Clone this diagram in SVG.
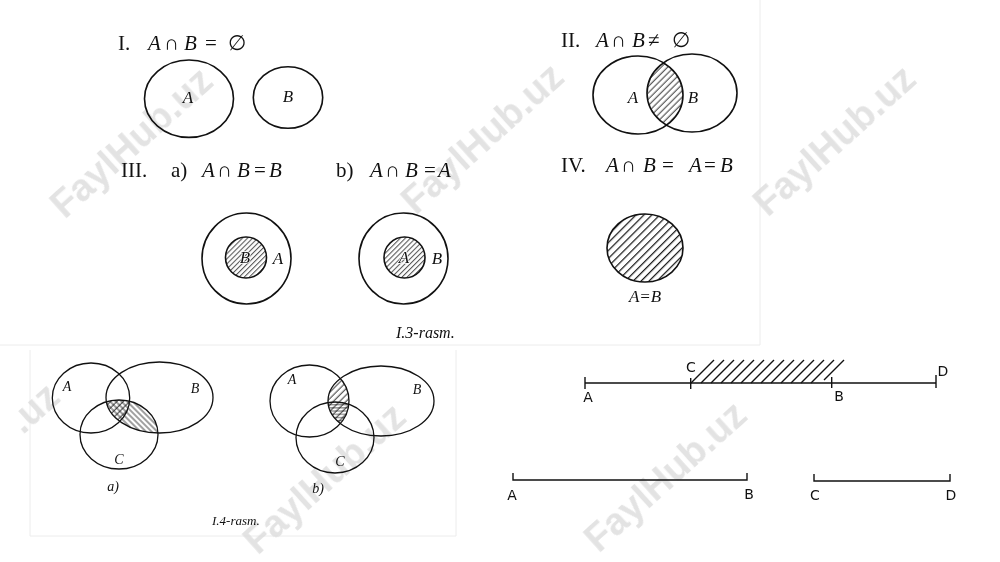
<svg xmlns="http://www.w3.org/2000/svg" width="1000" height="562" viewBox="0 0 1000 562">
<style>
.c{fill:none;stroke:#111;stroke-width:1.6}
.cc{fill:none;stroke:#111;stroke-width:1.3}
.t{font-family:"Liberation Serif",serif;font-size:21px;fill:#111}
.i{font-style:italic}
.l{font-family:"Liberation Serif",serif;font-style:italic;font-size:17px;fill:#111}
.s{font-family:"Liberation Serif",serif;font-style:italic;font-size:14px;fill:#111}
.h{font-family:"DejaVu Sans",sans-serif;font-size:14px;fill:#111}
.seg{stroke:#111;stroke-width:1.4;fill:none}
.wm{font-family:"Liberation Sans",sans-serif;font-weight:bold;font-size:38px;fill:#dcdcdc}
.frame{stroke:#ececec;stroke-width:1;fill:none}
</style>
<defs>
<pattern id="hF" width="4.5" height="10" patternUnits="userSpaceOnUse" patternTransform="rotate(45)"><line x1="2" y1="0" x2="2" y2="10" stroke="#111" stroke-width="0.9"/></pattern>
<pattern id="hIV" width="5.6" height="10" patternUnits="userSpaceOnUse" patternTransform="rotate(45)"><line x1="2.5" y1="0" x2="2.5" y2="10" stroke="#111" stroke-width="1.2"/></pattern>
<pattern id="hS" width="3.6" height="10" patternUnits="userSpaceOnUse" patternTransform="rotate(45)"><line x1="1.5" y1="0" x2="1.5" y2="10" stroke="#111" stroke-width="0.8"/></pattern>
<pattern id="hB" width="4" height="10" patternUnits="userSpaceOnUse" patternTransform="rotate(-45)"><line x1="2" y1="0" x2="2" y2="10" stroke="#111" stroke-width="0.8"/></pattern>
<pattern id="hH" width="10" height="3.2" patternUnits="userSpaceOnUse"><line x1="0" y1="1.5" x2="10" y2="1.5" stroke="#111" stroke-width="0.7"/></pattern>
<clipPath id="cIIB"><ellipse cx="692" cy="93" rx="45" ry="39"/></clipPath>
<clipPath id="caB"><ellipse cx="159.5" cy="397.5" rx="53.5" ry="35.5"/></clipPath>
<clipPath id="caA"><ellipse cx="91" cy="398" rx="38.7" ry="35"/></clipPath>
<clipPath id="cbB"><ellipse cx="381" cy="401" rx="53" ry="35"/></clipPath>
<clipPath id="cbC"><ellipse cx="335" cy="437.5" rx="39" ry="35.5"/></clipPath>
</defs>
<rect width="1000" height="562" fill="#fff"/>
<g id="frames">
<path class="frame" d="M0,345 H760 V0"/>
<path class="frame" d="M30,350 V536 H456 V350"/>
</g>

<g id="watermarks" opacity="0.8">
<text class="wm" text-anchor="middle" transform="translate(140,152) rotate(-42)">FaylHub.uz</text>
<text class="wm" text-anchor="middle" transform="translate(491,148) rotate(-42)">FaylHub.uz</text>
<text class="wm" text-anchor="middle" transform="translate(843,150) rotate(-42)">FaylHub.uz</text>
<text class="wm" text-anchor="middle" transform="translate(333,488) rotate(-42)">FaylHub.uz</text>
<text class="wm" text-anchor="middle" transform="translate(674,486) rotate(-42)">FaylHub.uz</text>
<text class="wm" text-anchor="end" transform="translate(62,400) rotate(-42)">.uz</text>
</g>

<g id="set-I">
<text class="t" x="118" y="50">I.<tspan class="i" x="148">A</tspan><tspan x="164">∩</tspan><tspan class="i" x="184">B</tspan><tspan x="205">=</tspan><tspan x="228">∅</tspan></text>
<ellipse class="c" cx="189" cy="98.7" rx="44.5" ry="38.7"/>
<ellipse class="c" cx="288" cy="97.5" rx="34.7" ry="30.8"/>
<text class="l" x="188" y="103" text-anchor="middle">A</text>
<text class="l" x="288" y="102" text-anchor="middle">B</text>
</g>

<g id="set-II">
<text class="t" x="561" y="47">II.<tspan class="i" x="596">A</tspan><tspan x="611">∩</tspan><tspan class="i" x="632">B</tspan><tspan x="648">≠</tspan><tspan x="672">∅</tspan></text>
<ellipse cx="638" cy="95" rx="45" ry="39" fill="url(#hF)" clip-path="url(#cIIB)"/>
<ellipse class="c" cx="638" cy="95" rx="45" ry="39"/>
<ellipse class="c" cx="692" cy="93" rx="45" ry="39"/>
<text class="l" x="633" y="103" text-anchor="middle">A</text>
<text class="l" x="693" y="103" text-anchor="middle">B</text>
</g>

<g id="set-IIIa">
<text class="t" x="121" y="177">III.<tspan x="171">a)</tspan><tspan class="i" x="202">A</tspan><tspan x="217">∩</tspan><tspan class="i" x="237">B</tspan><tspan x="254">=</tspan><tspan class="i" x="269">B</tspan></text>
<ellipse class="c" cx="246.5" cy="258.5" rx="44.5" ry="45.5"/>
<circle cx="246" cy="257.5" r="20.5" fill="url(#hS)" stroke="#111" stroke-width="1.6"/>
<text class="l" x="245" y="263" text-anchor="middle" style="paint-order:stroke;stroke:#fff;stroke-width:1.5">B</text>
<text class="l" x="278" y="264" text-anchor="middle">A</text>
</g>

<g id="set-IIIb">
<text class="t" x="336" y="177">b)<tspan class="i" x="370">A</tspan><tspan x="385">∩</tspan><tspan class="i" x="405">B</tspan><tspan x="424">=</tspan><tspan class="i" x="438">A</tspan></text>
<ellipse class="c" cx="403.5" cy="258.5" rx="44.5" ry="45.5"/>
<circle cx="404.5" cy="257.5" r="20.5" fill="url(#hS)" stroke="#111" stroke-width="1.6"/>
<text class="l" x="404" y="263" text-anchor="middle" style="paint-order:stroke;stroke:#fff;stroke-width:1.5">A</text>
<text class="l" x="437" y="264" text-anchor="middle">B</text>
<text class="l" x="396" y="338" style="font-size:16px">I.3-rasm.</text>
</g>

<g id="set-IV">
<text class="t" x="561" y="172">IV.<tspan class="i" x="606">A</tspan><tspan x="621">∩</tspan><tspan class="i" x="643">B</tspan><tspan x="662">=</tspan><tspan class="i" x="689">A</tspan><tspan x="704">=</tspan><tspan class="i" x="720">B</tspan></text>
<ellipse cx="645" cy="248" rx="38" ry="34" fill="url(#hIV)" stroke="#111" stroke-width="1.6"/>
<text class="l" x="645" y="302" text-anchor="middle">A=B</text>
</g>

<g id="venn-a">
<g clip-path="url(#caB)"><ellipse cx="119" cy="434.5" rx="39" ry="34.5" fill="url(#hB)"/></g>
<g clip-path="url(#caB)"><g clip-path="url(#caA)"><ellipse cx="119" cy="434.5" rx="39" ry="34.5" fill="url(#hF)"/></g></g>
<ellipse class="cc" cx="91" cy="398" rx="38.7" ry="35"/>
<ellipse class="cc" cx="159.5" cy="397.5" rx="53.5" ry="35.5"/>
<ellipse class="cc" cx="119" cy="434.5" rx="39" ry="34.5"/>
<text class="s" x="67" y="391" text-anchor="middle">A</text>
<text class="s" x="195" y="393" text-anchor="middle">B</text>
<text class="s" x="119" y="464" text-anchor="middle">C</text>
<text class="s" x="113" y="491" text-anchor="middle">a)</text>
<text class="s" x="212" y="525" style="font-size:13px">I.4-rasm.</text>
</g>

<g id="venn-b">
<g clip-path="url(#cbB)"><ellipse cx="309.5" cy="401" rx="39.5" ry="36" fill="url(#hF)"/></g>
<g clip-path="url(#cbB)"><g clip-path="url(#cbC)"><ellipse cx="309.5" cy="401" rx="39.5" ry="36" fill="url(#hH)"/></g></g>
<ellipse class="cc" cx="309.5" cy="401" rx="39.5" ry="36"/>
<ellipse class="cc" cx="381" cy="401" rx="53" ry="35"/>
<ellipse class="cc" cx="335" cy="437.5" rx="39" ry="35.5"/>
<text class="s" x="292" y="384" text-anchor="middle">A</text>
<text class="s" x="417" y="394" text-anchor="middle">B</text>
<text class="s" x="340" y="466" text-anchor="middle">C</text>
<text class="s" x="318" y="493" text-anchor="middle">b)</text>
</g>

<g id="segments-top">
<path class="seg" d="M585,383 H936 M585,377 V389 M690.7,378 V389 M831.7,377 V388 M936,375 V388"/>
<path class="seg" stroke-width="1.1" d="M691,383 l23,-23 M701,383 l23,-23 M711,383 l23,-23 M721,383 l23,-23 M731,383 l23,-23 M741,383 l23,-23 M751,383 l23,-23 M761,383 l23,-23 M771,383 l23,-23 M781,383 l23,-23 M791,383 l23,-23 M801,383 l23,-23 M811,383 l23,-23 M824,380 l20,-20"/>
<text class="h" x="588" y="402" text-anchor="middle">A</text>
<text class="h" x="691" y="372" text-anchor="middle">C</text>
<text class="h" x="839" y="401" text-anchor="middle">B</text>
<text class="h" x="943" y="376" text-anchor="middle">D</text>
</g>

<g id="segments-bottom">
<path class="seg" d="M513,473 V480 H747 V473 M814,474 V481 H950 V474"/>
<text class="h" x="512" y="500" text-anchor="middle">A</text>
<text class="h" x="749" y="499" text-anchor="middle">B</text>
<text class="h" x="815" y="500" text-anchor="middle">C</text>
<text class="h" x="951" y="500" text-anchor="middle">D</text>
</g>
</svg>
